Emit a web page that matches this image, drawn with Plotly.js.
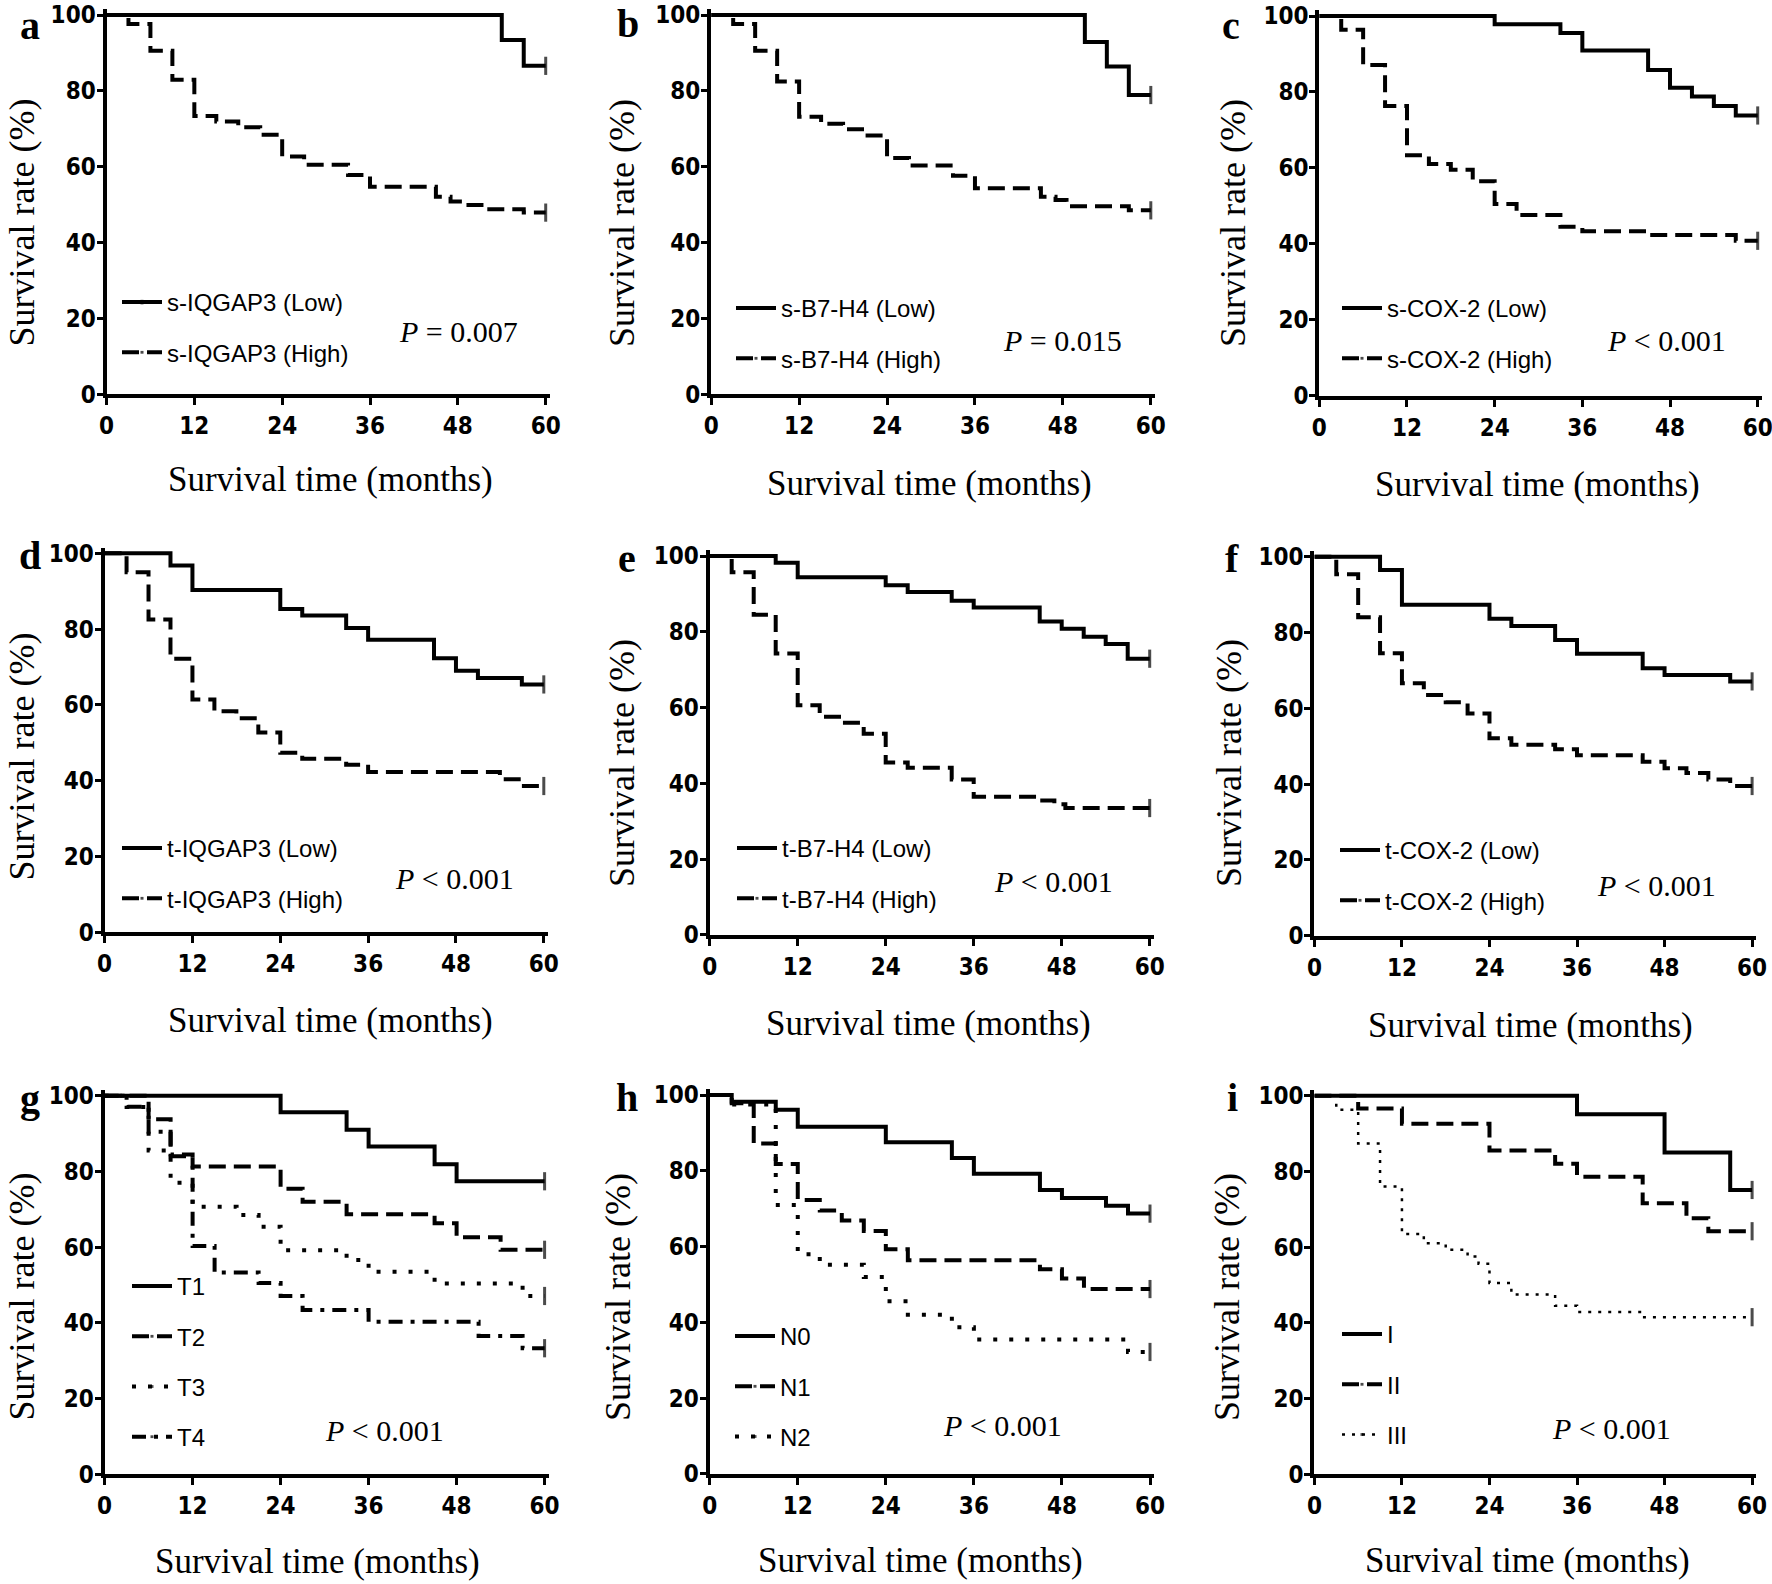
<!DOCTYPE html>
<html><head><meta charset="utf-8">
<script src="https://cdn.plot.ly/plotly-3.0.1.min.js"></script>
<style>body{margin:0;background:#fff}</style>
</head><body>
<div id="chart" style="width:1772px;height:1584px"></div>
<script>
// ---------- data (months, survival %) ----------
const xTicks = [0, 12, 24, 36, 48, 60];
const yTicks = [0, 20, 40, 60, 80, 100];

const aLowT = [54, 57];
const aLowS = [93.4, 86.6];
const aHighT = [3, 6, 9, 12, 15, 18, 21, 24, 27, 33, 36, 45, 47, 49, 51.5, 57];
const aHighS = [97.6, 90.6, 82.9, 73.4, 71.9, 70.4, 68.4, 62.7, 60.5, 57.8, 54.7, 52.1, 50.8, 49.9, 48.8, 47.9];

const bLowT = [51, 54, 57];
const bLowS = [92.9, 86.4, 78.9];
const bHighT = [3, 6, 9, 12, 15, 18, 21, 24, 27, 33, 36, 45, 47, 48.5, 57];
const bHighS = [97.6, 90.6, 82.5, 73.2, 71.3, 69.9, 68.2, 62.3, 60.3, 57.6, 54.3, 52.1, 51.2, 49.6, 48.5];

const cLowT = [24, 33, 36, 45, 48, 51, 54, 57];
const cLowS = [97.8, 95.5, 90.9, 85.8, 81.1, 78.8, 76.3, 73.8];
const cHighT = [3, 6, 9, 12, 15, 18, 21, 24, 27, 33, 36, 45, 57];
const cHighS = [96.4, 87.1, 76.3, 63.3, 61.0, 59.5, 56.5, 50.5, 47.6, 44.5, 43.3, 42.3, 40.8];

const dLowT = [9, 12, 24, 27, 33, 36, 45, 48, 51, 57];
const dLowS = [96.8, 90.3, 85.3, 83.6, 80.3, 77.2, 72.3, 69.0, 67.1, 65.4];
const dHighT = [3, 6, 9, 12, 15, 18, 21, 24, 27, 33, 36, 54, 57];
const dHighS = [95.0, 82.5, 72.2, 61.4, 58.3, 56.5, 52.7, 47.4, 45.8, 44.2, 42.3, 40.4, 38.6];

const eLowT = [9, 12, 24, 27, 33, 36, 45, 48, 51, 54, 57];
const eLowS = [98.2, 94.4, 92.3, 90.5, 88.2, 86.4, 82.7, 80.8, 78.7, 76.8, 72.9];
const eHighT = [3, 6, 9, 12, 15, 18, 21, 24, 27, 33, 36, 45, 47, 48.5];
const eHighS = [95.7, 84.5, 74.3, 60.6, 57.6, 56.0, 53.1, 45.5, 44.1, 41.0, 36.5, 35.5, 34.5, 33.5];

const fLowT = [9, 12, 24, 27, 33, 36, 45, 48, 57];
const fLowS = [96.5, 87.3, 83.6, 81.7, 78.0, 74.4, 70.6, 68.8, 67.1];
const fHighT = [3, 6, 9, 12, 15, 18, 21, 24, 27, 33, 36, 45, 48, 51, 54, 57];
const fHighS = [95.4, 84.0, 74.5, 66.6, 63.5, 61.6, 58.6, 52.1, 50.4, 49.2, 47.6, 45.9, 44.2, 42.9, 41.2, 39.5];

const gT1T = [24, 33, 36, 45, 48];
const gT1S = [95.6, 91.0, 86.6, 81.9, 77.4];
const gT2T = [6, 9, 12, 24, 27, 33, 45, 48, 54];
const gT2S = [93.8, 84.0, 81.3, 75.4, 72.0, 68.7, 66.3, 62.6, 59.3];
const gT3T = [3, 6, 9, 12, 18, 21, 24, 33, 36, 45, 57];
const gT3S = [97.0, 85.5, 77.0, 70.7, 68.5, 65.4, 59.2, 56.6, 53.5, 50.4, 47.1];
const gT4T = [3, 6, 9, 12, 15, 21, 24, 27, 36, 51, 57];
const gT4S = [97.1, 90.5, 84.5, 60.3, 53.3, 50.5, 47.1, 43.4, 40.3, 36.5, 33.3];

const hN0T = [3, 9, 12, 24, 33, 36, 45, 48, 54, 57];
const hN0S = [98.2, 96.1, 91.6, 87.5, 83.4, 79.2, 74.9, 72.8, 70.8, 68.7];
const hN1T = [3, 6, 9, 12, 15, 18, 21, 24, 27, 45, 48, 51];
const hN1S = [97.8, 87.2, 81.8, 72.3, 69.5, 66.9, 64.1, 59.3, 56.4, 54.0, 51.6, 48.8];
const hN2T = [3, 9, 12, 15, 21, 24, 27, 33, 36, 57];
const hN2S = [97.5, 71.0, 58.0, 55.2, 52.0, 45.6, 42.0, 38.7, 35.5, 32.2];

const iIT = [36, 48, 57];
const iIS = [95.1, 85.0, 75.1];
const iIIT = [6, 12, 24, 33, 36, 45, 51, 54];
const iIIS = [96.6, 92.6, 85.5, 82.0, 78.6, 71.6, 67.6, 64.2];
const iIIIT = [3, 6, 9, 12, 15, 18, 21, 22.5, 24, 27, 33, 36, 45];
const iIIIS = [96.3, 87.4, 76.0, 63.5, 61.0, 59.3, 57.5, 55.6, 50.5, 47.5, 44.5, 42.9, 41.5];

const pTexts = ['<i>P</i> = 0.007', '<i>P</i> = 0.015', '<i>P</i> &lt; 0.001',
                '<i>P</i> &lt; 0.001', '<i>P</i> &lt; 0.001', '<i>P</i> &lt; 0.001',
                '<i>P</i> &lt; 0.001', '<i>P</i> &lt; 0.001', '<i>P</i> &lt; 0.001'];
const xTitle = 'Survival time (months)';
const yTitle = 'Survival rate (%)';

// ---------- styles ----------
const STY = {
  solid: {width: 4, dash: 'solid'},
  dash:  {width: 4, dash: '17px,8px'},
  dot:   {width: 4, dash: '4px,12px'},
  dashdot: {width: 4, dash: '14px,8px,4px,8px'},
  fine:  {width: 2.5, dash: '3px,7px'}
};

// ---------- panels (pixel layout) ----------
const W = 1772, H = 1584;
const panels = [
  {L:'a', box:[106.5,545.7,15,394.3], ser:[['s-IQGAP3 (Low)',aLowT,aLowS,'solid'],['s-IQGAP3 (High)',aHighT,aHighS,'dash']],
   leg:[117,280], p:[459,332], xt:[330,480], yt:[21.5,223], lab:[30,25]},
  {L:'b', box:[711.2,1150.8,15,394.3], ser:[['s-B7-H4 (Low)',bLowT,bLowS,'solid'],['s-B7-H4 (High)',bHighT,bHighS,'dash']],
   leg:[731,286], p:[1062,340], xt:[930,483], yt:[622,223], lab:[628,24]},
  {L:'c', box:[1319.3,1757.7,16,395.7], ser:[['s-COX-2 (Low)',cLowT,cLowS,'solid'],['s-COX-2 (High)',cHighT,cHighS,'dash']],
   leg:[1337,286], p:[1666,340], xt:[1537,484], yt:[1233,223], lab:[1231,25]},
  {L:'d', box:[104.6,543.8,553.3,932.3], ser:[['t-IQGAP3 (Low)',dLowT,dLowS,'solid'],['t-IQGAP3 (High)',dHighT,dHighS,'dash']],
   leg:[117,826], p:[454,878], xt:[330,1020], yt:[21.5,757], lab:[30,555]},
  {L:'e', box:[709.7,1149.7,556,935], ser:[['t-B7-H4 (Low)',eLowT,eLowS,'solid'],['t-B7-H4 (High)',eHighT,eHighS,'dash']],
   leg:[732,826], p:[1053,882], xt:[928,1023], yt:[622,763], lab:[627,558]},
  {L:'f', box:[1314.4,1752.1,556.7,935.7], ser:[['t-COX-2 (Low)',fLowT,fLowS,'solid'],['t-COX-2 (High)',fHighT,fHighS,'dash']],
   leg:[1335,828], p:[1656,885], xt:[1530,1025], yt:[1229,763], lab:[1232,558]},
  {L:'g', box:[104.6,544.6,1095.7,1474.3], ser:[['T1',gT1T,gT1S,'solid'],['T2',gT2T,gT2S,'dash'],['T3',gT3T,gT3S,'dot'],['T4',gT4T,gT4S,'dashdot']],
   leg:[127,1264], p:[384,1430], xt:[317,1561], yt:[21.5,1297], lab:[30,1098]},
  {L:'h', box:[709.7,1150,1095,1474], ser:[['N0',hN0T,hN0S,'solid'],['N1',hN1T,hN1S,'dash'],['N2',hN2T,hN2S,'dot']],
   leg:[730,1314], p:[1003,1425], xt:[920,1560], yt:[618,1297], lab:[627,1097]},
  {L:'i', box:[1314.4,1752.1,1095.7,1474.3], ser:[['I',iIT,iIS,'solid'],['II',iIIT,iIIS,'dash'],['III',iIIIT,iIIIS,'fine']],
   leg:[1337,1312], p:[1611,1428], xt:[1527,1560], yt:[1227,1297], lab:[1232,1097]}
];

const tickFont = {family: '"Liberation Sans Narrow","Arial Narrow","DejaVu Sans Condensed",sans-serif', size: 24, color: '#000', weight: 'bold'};
const serif = '"Liberation Serif","Times New Roman",serif';
const sans = '"Liberation Sans",Arial,sans-serif';

const traces = [];
const layout = {
  width: W, height: H, margin: {l:0, r:0, t:0, b:0},
  paper_bgcolor: '#fff', plot_bgcolor: '#fff',
  showlegend: true, annotations: []
};

panels.forEach((P, k) => {
  const n = k + 1;
  const xs = n === 1 ? '' : String(n);
  const [x0, x60, y100, y0] = P.box;
  const XMAX = 60.6, YMAX = 101.5;
  const xr = x0 + (x60 - x0) * XMAX / 60;
  const yt = y0 - (y0 - y100) * YMAX / 100;
  const lg = n === 1 ? 'legend' : 'legend' + n;
  layout['xaxis' + xs] = {
    domain: [x0 / W, xr / W], range: [0, XMAX], anchor: 'y' + xs,
    tickvals: xTicks, ticktext: xTicks.map(String), ticks: 'outside', ticklen: 7, tickwidth: 3, tickcolor: '#000',
    showline: true, linewidth: 4, linecolor: '#000', showgrid: false, zeroline: false,
    tickfont: tickFont, fixedrange: true, ticklabeloverflow: 'allow'
  };
  layout['yaxis' + xs] = {
    domain: [1 - y0 / H, 1 - yt / H], range: [0, YMAX], anchor: 'x' + xs,
    tickvals: yTicks, ticktext: yTicks.map(String), ticks: 'outside', ticklen: 6, tickwidth: 3, tickcolor: '#000',
    showline: true, linewidth: 4, linecolor: '#000', showgrid: false, zeroline: false,
    tickfont: tickFont, fixedrange: true, ticklabeloverflow: 'allow', ticklabelstandoff: -4
  };
  layout[lg] = {
    x: P.leg[0] / W, y: 1 - P.leg[1] / H, xanchor: 'left', yanchor: 'top',
    bgcolor: 'rgba(0,0,0,0)', borderwidth: 0, tracegroupgap: 16, itemwidth: 40,
    font: {family: sans, size: 24, color: '#000'}, traceorder: 'grouped'
  };
  P.ser.forEach((s, j) => {
    const [name, T, S, st] = s;
    const x = [0].concat(T, [60]);
    const y = [100].concat(S, [S[S.length - 1]]);
    const sizes = x.map((_, i) => i === x.length - 1 ? 13 : 0);
    traces.push({
      type: 'scatter', mode: 'lines+markers', name: name, x: x, y: y,
      xaxis: 'x' + xs, yaxis: 'y' + xs, legend: lg, legendgroup: P.L + j,
      line: {shape: 'hv', color: '#000', width: STY[st].width, dash: STY[st].dash},
      marker: {symbol: 'line-ns', size: sizes, color: '#000', line: {color: '#000', width: 3}},
      cliponaxis: false, hoverinfo: 'skip'
    });
  });
  layout.annotations.push(
    {xref:'paper', yref:'paper', x: P.lab[0]/W, y: 1 - P.lab[1]/H, xanchor:'center', yanchor:'middle',
     text: '<b>' + P.L + '</b>', showarrow:false, font:{family: serif, size: 40, color:'#000'}},
    {xref:'paper', yref:'paper', x: P.p[0]/W, y: 1 - P.p[1]/H, xanchor:'center', yanchor:'middle',
     text: pTexts[k], showarrow:false, font:{family: serif, size: 30, color:'#000'}},
    {xref:'paper', yref:'paper', x: P.xt[0]/W, y: 1 - P.xt[1]/H, xanchor:'center', yanchor:'middle',
     text: xTitle, showarrow:false, font:{family: serif, size: 35, color:'#000'}},
    {xref:'paper', yref:'paper', x: P.yt[0]/W, y: 1 - P.yt[1]/H, xanchor:'center', yanchor:'middle',
     text: yTitle, textangle: -90, showarrow:false, font:{family: serif, size: 36, color:'#000'}}
  );
});

Plotly.newPlot('chart', traces, layout, {staticPlot: true});
</script>
</body></html>
